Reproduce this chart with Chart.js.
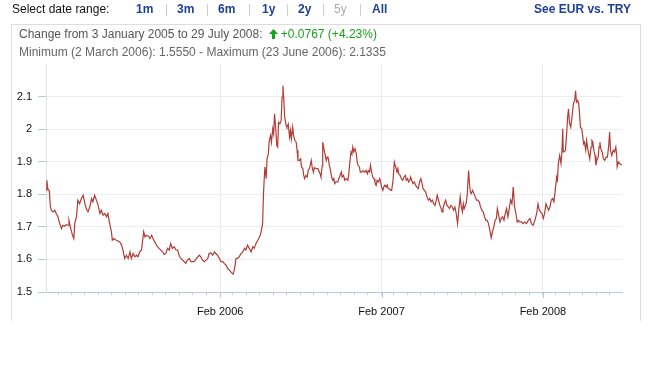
<!DOCTYPE html>
<html>
<head>
<meta charset="utf-8">
<script src="https://cdn.jsdelivr.net/npm/chart.js@4.4.1/dist/chart.umd.min.js"></script>
<style>
  html, body { margin: 0; padding: 0; background: #fff; }
  body { width: 648px; height: 384px; position: relative; overflow: hidden;
         font-family: "Liberation Sans", Arial, sans-serif; font-size: 12px; }
  #myCanvas { position: absolute; left: 0; top: 0; }
  .t { position: absolute; white-space: nowrap; line-height: 14px; }
  .lnk { font-weight: bold; color: #1b3f9a; }
  .sep { color: #cccccc; }
  .off { color: #aaaaaa; }
  .info { color: #555555; }
  .up { color: #17a317; }
  .bd { position: absolute; background: #dddddd; }
</style>
</head>
<body>
<canvas id="myCanvas" width="648" height="330"></canvas>

<div class="t" style="left:12px;top:2px;color:#111;">Select date range:</div>
<div class="t lnk" style="left:136px;top:2px;">1m</div>
<div class="t sep" style="left:165px;top:2px;">|</div>
<div class="t lnk" style="left:177px;top:2px;">3m</div>
<div class="t sep" style="left:206px;top:2px;">|</div>
<div class="t lnk" style="left:218px;top:2px;">6m</div>
<div class="t sep" style="left:248px;top:2px;">|</div>
<div class="t lnk" style="left:262px;top:2px;">1y</div>
<div class="t sep" style="left:286px;top:2px;">|</div>
<div class="t lnk" style="left:298px;top:2px;">2y</div>
<div class="t sep" style="left:322px;top:2px;">|</div>
<div class="t off" style="left:334px;top:2px;">5y</div>
<div class="t sep" style="left:359px;top:2px;">|</div>
<div class="t lnk" style="left:372px;top:2px;">All</div>
<div class="t lnk" style="right:17px;top:2px;">See EUR vs. TRY</div>

<div class="bd" style="left:11px;top:24px;width:630px;height:1px;"></div>
<div class="bd" style="left:11px;top:24px;width:1px;height:297px;"></div>
<div class="bd" style="left:640px;top:24px;width:1px;height:297px;"></div>

<div class="t info" style="left:19px;top:27px;">Change from 3 January 2005 to 29 July 2008:
  <svg width="9" height="10" viewBox="0 0 9 10" style="vertical-align:-1px;margin-left:3px;margin-right:3px;"><path d="M4.5 0 L9 5 L6 5 L6 10 L3 10 L3 5 L0 5 Z" fill="#17a317"/></svg><span class="up">+0.0767 (+4.23%)</span></div>
<div class="t info" style="left:19px;top:45px;color:#666;">Minimum (2 March 2006): 1.5550 - Maximum (23 June 2006): 2.1335</div>

<script>
let canvas = document.getElementById("myCanvas");

// days since 3 January 2005, and USD/TRY rate on that day
const days = [
  0,2,4,7,8,10,12,16,20,23,27,31,35,38,42,46,50,52,55,60,63,65,69,72,76,80,84,88,91,95,
  99,103,106,110,114,118,122,125,129,133,137,140,144,148,150,153,159,167,171,174,178,182,186,190,193,197,201,205,208,212,216,
  221,224,227,232,235,239,242,246,252,258,264,267,271,275,279,282,286,290,294,298,301,305,309,313,316,320,324,328,332,335,
  339,343,347,350,354,358,362,366,369,373,377,381,384,388,392,396,400,403,407,411,415,418,423,426,430,433,437,
  441,445,449,452,456,460,464,468,471,475,479,483,486,490,492,495,498,500,503,505,508,510,513,515,517,520,522,524,526,529,
  532,534,536,538,540,543,545,548,551,553,555,558,560,563,566,568,570,573,576,578,581,583,585,588,591,593,596,600,602,605,
  607,611,615,617,620,622,625,626,628,631,634,636,638,641,
  643,646,649,651,653,656,660,664,668,670,673,676,679,683,685,687,690,692,694,696,699,702,704,706,709,711,714,717,721,724,
  727,729,732,734,736,739,742,744,747,749,752,755,757,759,762,764,767,770,772,774,777,780,782,785,788,791,794,796,798,801,
  804,807,810,813,815,818,820,823,825,827,830,833,836,839,842,845,
  848,850,853,856,859,862,865,868,871,874,877,880,883,885,888,891,894,896,898,901,904,907,910,913,916,919,922,925,928,931,
  934,937,939,942,944,946,949,951,953,956,958,960,962,965,968,971,974,977,980,983,986,989,992,995,998,1001,1004,1007,1010,1013,
  1016,1019,1021,1024,1027,1030,1033,1036,1039,1042,1045,1048,1051,1054,1057,1060,1063,1066,1069,1072,
  1076,1079,1083,1087,1091,1095,1098,1102,1106,1110,1113,1116,1119,1122,1125,1128,1131,1134,1137,1140,1143,1146,1149,1152,1155,1157,1159,1162,1165,1167,
  1169,1170,1172,1175,1178,1180,1182,1184,1187,1189,1191,1193,1196,1198,1200,1203,1205,1207,1209,1212,1214,1216,1218,1221,1223,1225,1227,1230,1233,1235,
  1237,1240,1242,1244,1246,1249,1251,1253,1255,1258,1261,1264,1267,1270,1273,1275,1277,1280,1283,1286,1289,1291,1292,1295,1298,1303
];
const rates = [
  1.813,1.843,1.817,1.812,1.802,1.761,1.751,1.746,1.751,1.741,1.731,1.710,1.695,1.705,1.702,1.707,1.705,1.720,1.700,1.674,1.664,1.710,1.731,1.782,1.771,1.787,1.797,1.771,1.756,1.746,
  1.761,1.787,1.777,1.797,1.782,1.766,1.741,1.751,1.736,1.741,1.731,1.741,1.710,1.685,1.659,1.664,1.659,1.654,1.644,1.629,1.603,1.613,1.603,1.623,1.603,1.618,1.608,1.613,1.608,1.623,1.629,
  1.685,1.669,1.674,1.671,1.664,1.674,1.664,1.654,1.639,1.631,1.623,1.615,1.618,1.634,1.629,1.649,1.634,1.639,1.629,1.629,1.613,1.603,1.598,1.593,1.588,1.598,1.603,1.593,1.593,1.593,
  1.600,1.608,1.613,1.608,1.598,1.593,1.598,1.603,1.618,1.620,1.613,1.623,1.618,1.613,1.603,1.593,1.593,1.588,1.583,1.572,1.567,1.562,1.555,1.567,1.603,1.603,1.608,
  1.618,1.623,1.634,1.629,1.644,1.634,1.623,1.639,1.634,1.649,1.659,1.669,1.680,1.710,1.802,1.884,1.848,1.909,1.924,1.965,1.981,1.960,2.001,1.986,2.047,1.996,1.950,1.945,2.021,2.016,
  2.027,2.098,2.1335,2.088,2.037,2.011,2.006,2.016,1.976,1.996,1.970,2.006,1.981,1.965,1.960,1.935,1.904,1.904,1.909,1.884,1.879,1.858,1.848,1.858,1.853,1.873,1.879,1.904,1.884,1.868,
  1.882,1.879,1.879,1.873,1.863,1.853,1.889,1.960,1.945,1.924,1.904,1.914,1.914,1.889,
  1.879,1.853,1.843,1.848,1.833,1.838,1.838,1.853,1.868,1.853,1.858,1.843,1.848,1.843,1.863,1.894,1.930,1.924,1.945,1.930,1.940,1.924,1.899,1.889,1.884,1.868,1.868,1.873,1.868,1.873,
  1.863,1.873,1.868,1.889,1.873,1.853,1.848,1.838,1.828,1.843,1.838,1.848,1.838,1.822,1.812,1.822,1.828,1.822,1.828,1.817,1.817,1.812,1.812,1.843,1.899,1.884,1.868,1.879,1.863,1.858,
  1.848,1.843,1.853,1.858,1.843,1.848,1.838,1.843,1.853,1.843,1.833,1.838,1.828,1.822,1.817,1.838,
  1.848,1.838,1.817,1.812,1.807,1.792,1.782,1.787,1.777,1.782,1.771,1.766,1.782,1.797,1.782,1.766,1.756,1.746,1.756,1.771,1.782,1.766,1.761,1.756,1.766,1.761,1.751,1.761,1.741,1.710,
  1.756,1.792,1.766,1.746,1.771,1.756,1.766,1.777,1.802,1.873,1.833,1.807,1.802,1.812,1.802,1.792,1.782,1.782,1.777,1.761,1.751,1.746,1.731,1.720,1.720,1.710,1.690,1.667,1.685,1.700,
  1.720,1.726,1.756,1.736,1.715,1.726,1.731,1.720,1.741,1.756,1.731,1.756,1.782,1.771,1.822,1.761,1.741,1.715,1.720,1.715,
  1.715,1.710,1.715,1.710,1.720,1.726,1.710,1.705,1.720,1.741,1.771,1.751,1.746,1.741,1.726,1.741,1.771,1.761,1.751,1.761,1.782,1.787,1.777,1.812,1.853,1.843,1.894,1.919,1.894,1.930,
  2.001,1.930,1.930,1.935,1.991,2.037,2.062,2.021,2.006,2.027,2.052,2.078,2.088,2.118,2.083,2.088,2.078,2.047,2.006,2.001,1.981,1.955,1.960,1.935,1.965,1.945,1.930,1.909,1.945,1.965,
  1.960,1.930,1.919,1.889,1.904,1.914,1.945,1.960,1.940,1.930,1.909,1.904,1.914,1.914,1.950,1.991,1.935,1.919,1.935,1.930,1.945,1.919,1.884,1.899,1.894,1.890
];

const yTickValues = [1.5,1.6,1.7,1.8,1.9,2,2.1];
const xTickLabels = ["Feb 2006","Feb 2007","Feb 2008"];
const labelYears = [2006,2007,2008];

// month starts (Feb 2005 .. Jul 2008) as day offsets
const inicio = Date.UTC(2005,0,3);
const diaDe = (y,m) => Math.round((Date.UTC(y,m,1) - inicio) / 86400000);
let monthTicks = [];
for (let y = 2005; y <= 2008; y++) {
  for (let m = 0; m < 12; m++) {
    let d = diaDe(y,m);
    if (d > 0 && d <= 1303) monthTicks.push(d);
  }
}
let majorTicks = labelYears.map(y => diaDe(y,1));

const puntos = days.map((d,i) => ({x: d, y: rates[i]}));

// longer marks under the labelled months
const tickLargo = {
  id: "tickLargo",
  afterDraw: (chart) => {
    let ctx = chart.ctx;
    let sx = chart.scales.x;
    let base = chart.chartArea.bottom;
    ctx.save();
    ctx.strokeStyle = "#b9c8d8";
    ctx.lineWidth = 1;
    majorTicks.forEach(d => {
      let px = Math.round(sx.getPixelForValue(d)) + 0.5;
      ctx.beginPath();
      ctx.moveTo(px, base);
      ctx.lineTo(px, base + 6);
      ctx.stroke();
    });
    ctx.restore();
  }
};

window.chart = new Chart(canvas, {
  type: "line",
  data: {
    datasets: [{
      data: puntos,
      borderColor: "#b23c35",
      borderWidth: 1.2,
      pointRadius: 0,
      tension: 0,
      fill: false
    }]
  },
  options: {
    responsive: false,
    animation: false,
    devicePixelRatio: 1,
    parsing: false,
    layout: { padding: { left: 0, top: 64, right: 26, bottom: 0 } },
    plugins: { legend: { display: false }, tooltip: { enabled: false } },
    scales: {
      x: {
        type: "linear",
        min: 0,
        max: 1303,
        afterBuildTicks: (s) => { s.ticks = monthTicks.map(v => ({value: v})); },
        afterFit: (s) => { s.height = 38; },
        ticks: {
          autoSkip: false,
          maxRotation: 0,
          padding: 10,
          color: "#111",
          font: { family: "'Liberation Sans', Arial, sans-serif", size: 11 },
          callback: (v) => {
            let i = majorTicks.indexOf(v);
            return i >= 0 ? xTickLabels[i] : "";
          }
        },
        grid: {
          color: (c) => (c.tick && majorTicks.indexOf(c.tick.value) >= 0) ? "#e6ebf1" : "rgba(0,0,0,0)",
          tickColor: "#c3d0de",
          tickLength: 3
        },
        border: { color: "#b9c8d8", width: 1 }
      },
      y: {
        min: 1.5,
        max: 2.2,
        afterBuildTicks: (s) => { s.ticks = yTickValues.map(v => ({value: v})); },
        afterFit: (s) => { s.width = 46; },
        ticks: {
          padding: 6,
          color: "#111",
          font: { family: "'Liberation Sans', Arial, sans-serif", size: 11 },
          callback: (v) => String(Math.round(v * 10) / 10)
        },
        grid: {
          color: "#ededed",
          tickColor: "#b9c8d8",
          tickLength: 8
        },
        border: { color: "#dfe3e8", width: 1 }
      }
    }
  },
  plugins: [tickLargo]
});
</script>
</body>
</html>
